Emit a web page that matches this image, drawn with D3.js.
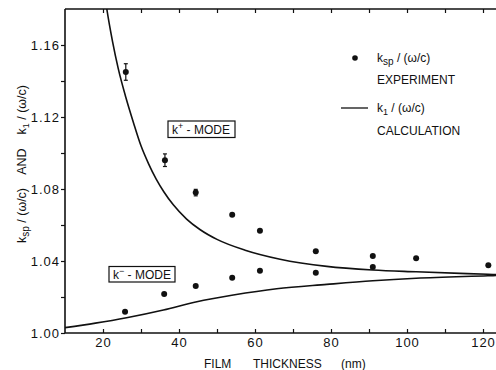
<!DOCTYPE html>
<html>
<head>
<meta charset="utf-8">
<script src="https://cdn.jsdelivr.net/npm/d3@7"></script>
<style>
  html, body { margin: 0; padding: 0; background: #fff; }
  svg { display: block; font-family: "Liberation Sans", Arial, sans-serif; }
  text { white-space: pre; fill: #111; }
</style>
</head>
<body>
<svg id="chart" width="496" height="370"></svg>
<script>
// Measured surface-plasmon wave vectors (k+ branch and k- branch)
const thicknessPlus = [26, 36.3, 44.4, 54, 61.3, 76, 91, 102.4, 121.4];
const kspPlus = [1.145, 1.096, 1.078, 1.0657, 1.0568, 1.0454, 1.0428, 1.0415, 1.0376];
const kspPlusErr = [0.0046, 0.0035, 0.0018, 0, 0, 0, 0, 0, 0];

const thicknessMinus = [25.8, 36.1, 44.4, 54, 61.3, 76, 91];
const kspMinus = [1.0118, 1.0217, 1.0261, 1.0307, 1.0346, 1.0335, 1.0367];

// Calculated dispersion k1/(w/c) for both modes
const calcPlusThickness = [20.3, 21, 22.5, 24, 26, 28, 30, 32, 34, 36, 38.5, 42, 45.5, 50, 57.4, 66.6, 78.9, 91, 102.4, 121.3, 124];
const calcPlus = [1.19, 1.180, 1.162, 1.147, 1.131, 1.117, 1.104, 1.094, 1.0855, 1.0785, 1.0712, 1.0633, 1.0575, 1.052, 1.046, 1.041, 1.037, 1.035, 1.034, 1.0326, 1.0324];
const calcMinusThickness = [10, 18, 26.2, 35.9, 44.7, 54.3, 65.7, 78.9, 91, 102.4, 121.3, 124];
const calcMinus = [1.0030, 1.0055, 1.0085, 1.0128, 1.0174, 1.0211, 1.0246, 1.0270, 1.0290, 1.0304, 1.0318, 1.0320];

// Axis ticks
const xTicks = [20, 30, 40, 50, 60, 70, 80, 90, 100, 110, 120];
const xTickLabels = [20, 40, 60, 80, 100, 120];
const yTicks = [1.00, 1.02, 1.04, 1.06, 1.08, 1.10, 1.12, 1.14, 1.16];
const yTickLabels = [1.00, 1.04, 1.08, 1.12, 1.16];

const ink = "#111";
const svg = d3.select("#chart");
const L = 65, R = 496, T = 9, B = 333;

const x = d3.scaleLinear().domain([10, 123.42]).range([L, R]);
const y = d3.scaleLinear().domain([1.00, 1.18]).range([B, T]);

svg.append("clipPath").attr("id", "plot")
  .append("rect").attr("x", L).attr("y", T).attr("width", R - L).attr("height", B - T);

// Bottom axis: inward ticks every 10, labels every 20
const axisB = svg.append("g").attr("transform", `translate(0,${B})`)
  .call(d3.axisBottom(x).tickValues(xTicks).tickSize(-4).tickPadding(5)
    .tickFormat(d => xTickLabels.includes(d) ? String(d) : ""));
// Top axis: inward ticks only
const axisT = svg.append("g").attr("transform", `translate(0,${T})`)
  .call(d3.axisTop(x).tickValues(xTicks).tickSize(-4).tickFormat(""));
// Left axis: outward ticks every 0.02, labels every 0.04
const axisL = svg.append("g").attr("transform", `translate(${L},0)`)
  .call(d3.axisLeft(y).tickValues(yTicks).tickSize(4).tickPadding(1)
    .tickFormat(d => yTickLabels.some(v => Math.abs(v - d) < 1e-9) ? d3.format(".2f")(d) : ""));

[axisB, axisT, axisL].forEach(g => {
  g.selectAll(".domain").attr("stroke", ink).attr("stroke-width", 1.6);
  g.selectAll(".tick line").attr("stroke", ink).attr("stroke-width", 1.2);
  g.selectAll("text").attr("fill", ink).style("font-size", "13px")
    .style("font-family", "Liberation Sans, Arial, sans-serif").style("letter-spacing", "1px");
});
axisT.select(".domain").attr("stroke-width", 1.3);
// keep axis lines flush with the frame (no outer ticks)
axisB.select(".domain").attr("d", `M${L},0H${R}`);
axisT.select(".domain").attr("d", `M${L},0H${R}`);
axisL.select(".domain").attr("d", `M0,${T}V${B}`);

// Calculated curves
const plot = svg.append("g").attr("clip-path", "url(#plot)");
const line = d3.line().x(d => x(d[0])).y(d => y(d[1])).curve(d3.curveMonotoneX);
plot.append("path")
  .datum(d3.zip(calcPlusThickness, calcPlus))
  .attr("d", line).attr("fill", "none").attr("stroke", ink).attr("stroke-width", 1.6);
plot.append("path")
  .datum(d3.zip(calcMinusThickness, calcMinus))
  .attr("d", line).attr("fill", "none").attr("stroke", ink).attr("stroke-width", 1.6);

// Error bars on the k+ measurements
const errs = d3.zip(thicknessPlus, kspPlus, kspPlusErr).filter(d => d[2] > 0);
const eg = plot.append("g").attr("stroke", ink).attr("stroke-width", 1.2);
errs.forEach(([t, v, e]) => {
  eg.append("line").attr("x1", x(t)).attr("x2", x(t)).attr("y1", y(v - e)).attr("y2", y(v + e));
  eg.append("line").attr("x1", x(t) - 2).attr("x2", x(t) + 2).attr("y1", y(v - e)).attr("y2", y(v - e));
  eg.append("line").attr("x1", x(t) - 2).attr("x2", x(t) + 2).attr("y1", y(v + e)).attr("y2", y(v + e));
});

// Measured points
plot.append("g").selectAll("circle")
  .data(d3.zip(thicknessPlus, kspPlus).concat(d3.zip(thicknessMinus, kspMinus)))
  .join("circle")
  .attr("cx", d => x(d[0])).attr("cy", d => y(d[1])).attr("r", 3).attr("fill", ink);

// Mode labels in boxes
function modeLabel(bx, by, bw, bh, sup) {
  svg.append("rect").attr("x", bx).attr("y", by).attr("width", bw).attr("height", bh)
    .attr("fill", "#fff").attr("stroke", ink).attr("stroke-width", 1.2);
  const t = svg.append("text").attr("x", bx + 4).attr("y", by + bh - 3.5).style("font-size", "12px");
  t.append("tspan").text("k");
  t.append("tspan").attr("dy", -5).style("font-size", "9px").text(sup);
  t.append("tspan").attr("dy", 5).text(" - MODE");
}
modeLabel(168, 121, 67, 16.5, "+");
modeLabel(109, 266.5, 66, 15.5, "\u2212");

// Legend
svg.append("circle").attr("cx", 355).attr("cy", 58).attr("r", 2.8).attr("fill", ink);
const l1 = svg.append("text").attr("x", 377).attr("y", 62).style("font-size", "12px");
l1.append("tspan").text("k");
l1.append("tspan").attr("dy", 3).style("font-size", "10px").text("sp");
l1.append("tspan").attr("dy", -3).text(" / (\u03c9/c)");
svg.append("text").attr("x", 377).attr("y", 84).style("font-size", "12px").text("EXPERIMENT");

svg.append("line").attr("x1", 341).attr("x2", 368).attr("y1", 108).attr("y2", 108)
  .attr("stroke", ink).attr("stroke-width", 1.3);
const l2 = svg.append("text").attr("x", 377).attr("y", 112).style("font-size", "12px");
l2.append("tspan").text("k");
l2.append("tspan").attr("dy", 3).style("font-size", "9px").text("1");
l2.append("tspan").attr("dy", -3).text(" / (\u03c9/c)");
svg.append("text").attr("x", 377).attr("y", 135).style("font-size", "12px").text("CALCULATION");

// Axis titles
const xt = svg.append("g").style("font-size", "12px");
xt.append("text").attr("x", 204).attr("y", 368).text("FILM");
xt.append("text").attr("x", 253).attr("y", 368).text("THICKNESS");
xt.append("text").attr("x", 341).attr("y", 368).text("(nm)");

const yt = svg.append("text").attr("transform", "translate(26,164) rotate(-90)")
  .attr("text-anchor", "middle").style("font-size", "12.5px");
yt.append("tspan").text("k");
yt.append("tspan").attr("dy", 3).style("font-size", "10px").text("sp");
yt.append("tspan").attr("dy", -3).text(" / (\u03c9/c)    AND    k");
yt.append("tspan").attr("dy", 3).style("font-size", "9px").text("1");
yt.append("tspan").attr("dy", -3).text(" / (\u03c9/c)");
</script>
</body>
</html>
